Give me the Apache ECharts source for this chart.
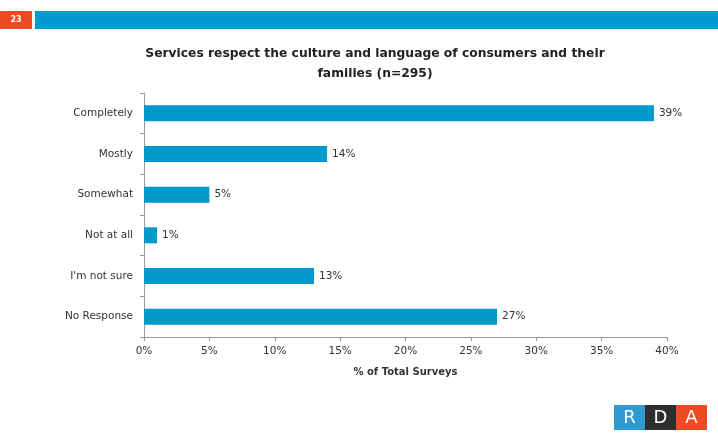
<!DOCTYPE html>
<html>
<head>
<meta charset="utf-8">
<script src="https://cdn.jsdelivr.net/npm/echarts@6/dist/echarts.min.js"></script>
<style>
  html, body { margin: 0; padding: 0; background: #fff; }
  #chart { width: 718px; height: 433px; }
</style>
</head>
<body>
<div id="chart"></div>
<script>
// Survey responses, percent of total surveys (n=295)
const categories = ['Completely', 'Mostly', 'Somewhat', 'Not at all', "I'm not sure", 'No Response'];
const percentValues = [39, 14, 5, 1, 13, 27];
const axisTicks = [0, 5, 10, 15, 20, 25, 30, 35, 40];

const FONT = '"DejaVu Sans", sans-serif';
const chart = echarts.init(document.getElementById('chart'));

chart.setOption({
  animation: false,
  title: {
    text: 'Services respect the culture and language of consumers and their\nfamilies (n=295)',
    left: 370,
    top: 39,
    textAlign: 'center',
    textStyle: { fontFamily: FONT, fontSize: 12.3, fontWeight: 'bold', color: '#222', lineHeight: 20 }
  },
  grid: { left: 144, right: 51, top: 93, bottom: 96, containLabel: false },
  xAxis: {
    type: 'value',
    min: axisTicks[0],
    max: axisTicks[axisTicks.length - 1],
    interval: axisTicks[1] - axisTicks[0],
    name: '% of Total Surveys',
    nameLocation: 'middle',
    nameGap: 30,
    nameTextStyle: { fontFamily: FONT, fontSize: 10, fontWeight: 'bold', color: '#333' },
    axisLine: { show: true, lineStyle: { color: '#999' } },
    axisTick: { show: true, length: 4, lineStyle: { color: '#999' } },
    axisLabel: { fontFamily: FONT, fontSize: 10.5, color: '#333', margin: 9, formatter: v => v + '%' },
    splitLine: { show: false }
  },
  yAxis: {
    type: 'category',
    data: categories,
    inverse: true,
    axisLine: { show: true, lineStyle: { color: '#999' } },
    axisTick: { show: true, length: 4, lineStyle: { color: '#999' } },
    axisLabel: { fontFamily: FONT, fontSize: 10.5, color: '#333', margin: 11 }
  },
  series: [{
    type: 'bar',
    data: percentValues,
    barWidth: 16,
    itemStyle: { color: '#0399CB' },
    label: {
      show: true,
      position: 'right',
      distance: 5,
      fontFamily: FONT,
      fontSize: 10.5,
      color: '#333',
      formatter: p => p.value + '%'
    }
  }],
  graphic: [
    // slide header: page number tab and banner
    { type: 'rect', shape: { x: 0, y: 11, width: 32, height: 18 }, style: { fill: '#EE4A22' } },
    { type: 'text', style: { x: 16, y: 20, text: '23', fill: '#fff', font: 'bold 8px ' + FONT, textAlign: 'center', textVerticalAlign: 'middle' } },
    { type: 'rect', shape: { x: 35, y: 11, width: 683, height: 18 }, style: { fill: '#009BCE' } },
    // RDA logo
    { type: 'rect', shape: { x: 614, y: 405, width: 31, height: 25 }, style: { fill: '#2D9AD3' } },
    { type: 'rect', shape: { x: 645, y: 405, width: 31, height: 25 }, style: { fill: '#2E2E2E' } },
    { type: 'rect', shape: { x: 676, y: 405, width: 31, height: 25 }, style: { fill: '#EC4B24' } },
    { type: 'text', style: { x: 629.5, y: 418, text: 'R', fill: '#fff', font: '18px ' + FONT, textAlign: 'center', textVerticalAlign: 'middle' } },
    { type: 'text', style: { x: 660.5, y: 418, text: 'D', fill: '#fff', font: '18px ' + FONT, textAlign: 'center', textVerticalAlign: 'middle' } },
    { type: 'text', style: { x: 691.5, y: 418, text: 'A', fill: '#fff', font: '18px ' + FONT, textAlign: 'center', textVerticalAlign: 'middle' } }
  ]
});
</script>
</body>
</html>
